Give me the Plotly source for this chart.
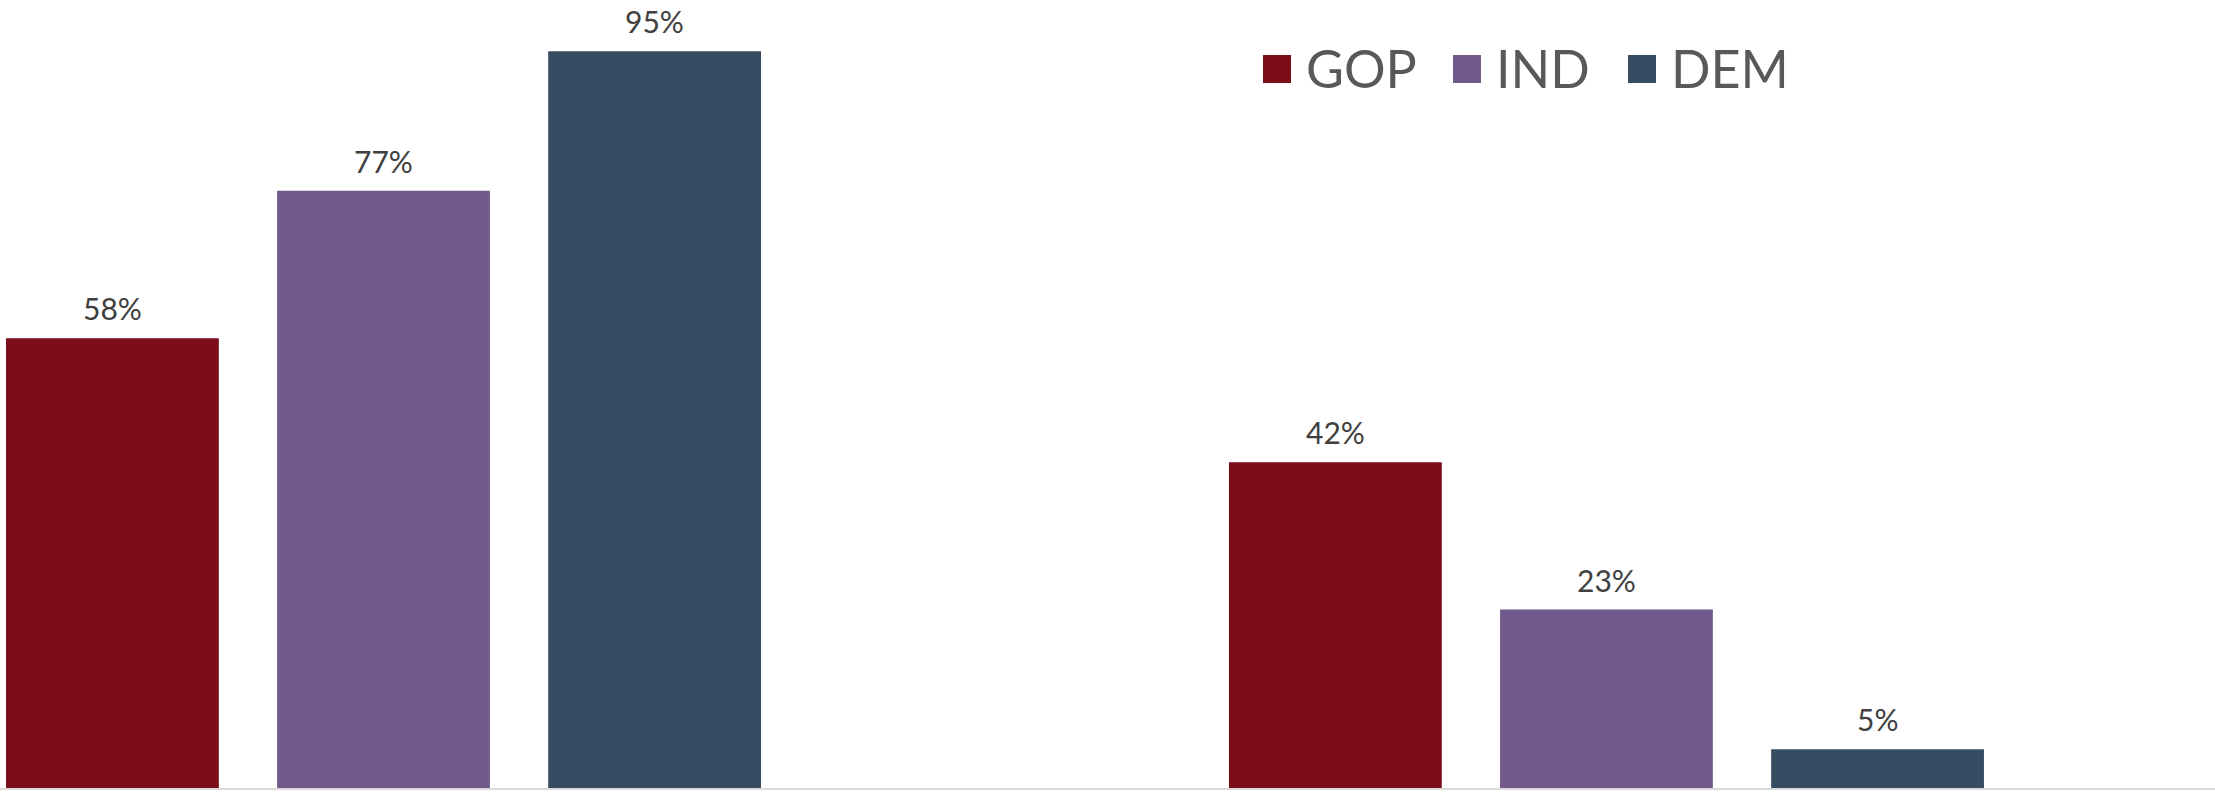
import plotly.graph_objects as go

# Two question groups, three party bars each (share in percent)
groups = [0, 1]
parties = ["GOP", "IND", "DEM"]
gop = [58, 42]
ind = [77, 23]
dem = [95, 5]
colors = {"GOP": "#7B0D1A", "IND": "#71598C", "DEM": "#364C63"}

W, H = 2215, 792
MT, MB = 0, 4
BARGAP, GROUPGAP = 0.335, 0.215
X_RANGE = [-0.3136, 1.4976]
Y_RANGE = [0, 101.6]

LABEL_FONT = dict(family="Liberation Sans Narrow, Lato, sans-serif", size=30, color="#404040")

fig = go.Figure()
series = {"GOP": gop, "IND": ind, "DEM": dem}
for name in parties:
    fig.add_trace(go.Bar(
        x=groups, y=series[name], name=name,
        marker=dict(color=colors[name], line=dict(width=0)),
        showlegend=False, hoverinfo="skip",
    ))

# value labels above each bar, centred on the bar's slot within its group
slot = (1 - BARGAP) / len(parties)
for i, name in enumerate(parties):
    off = (i - (len(parties) - 1) / 2) * slot
    for g, v in zip(groups, series[name]):
        fig.add_annotation(
            x=g + off, y=v, xref="x", yref="y",
            text=f"{v}%", showarrow=False,
            yanchor="bottom", yshift=10,
            font=LABEL_FONT,
        )

# legend: coloured squares with party names, top right
plot_h = H - MT - MB
leg_items = [("GOP", 1263), ("IND", 1453), ("DEM", 1628)]
sq = 28
sq_top = 55
for name, px in leg_items:
    fig.add_shape(
        type="rect", xref="paper", yref="paper",
        x0=px / W, x1=(px + sq) / W,
        y0=1 - (sq_top + sq) / plot_h, y1=1 - sq_top / plot_h,
        fillcolor=colors[name], line=dict(width=0),
    )
    fig.add_annotation(
        x=(px + sq + 13) / W, y=1 - (sq_top + sq / 2 - 1) / plot_h,
        xref="paper", yref="paper", xanchor="left", yanchor="middle",
        text=name, showarrow=False,
        font=dict(family="Lato, sans-serif", size=52, color="#595959"),
    )

fig.update_layout(
    width=W, height=H,
    margin=dict(l=0, r=0, t=MT, b=MB),
    paper_bgcolor="white", plot_bgcolor="white",
    barmode="group", bargap=BARGAP, bargroupgap=GROUPGAP,
    xaxis=dict(range=X_RANGE, showticklabels=False, ticks="", showgrid=False,
               zeroline=False, showline=True, linecolor="#D9D9D9", linewidth=2),
    yaxis=dict(range=Y_RANGE, visible=False, showgrid=False, zeroline=False),
)

fig.write_html("out.html")
